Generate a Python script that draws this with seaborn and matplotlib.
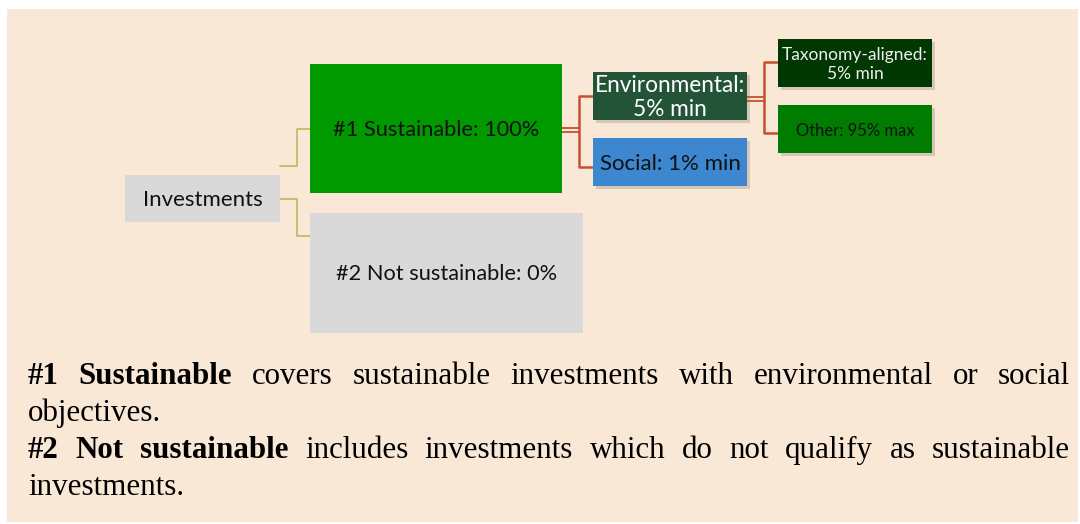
import matplotlib
matplotlib.use("Agg")
import matplotlib.pyplot as plt
import matplotlib.patheffects as pe
from matplotlib.patches import Rectangle
import seaborn as sns

# data
box_names = ["Investments", "#1 Sustainable: 100%", "#2 Not sustainable: 0%",
             "Environmental:\n5% min", "Social: 1% min",
             "Taxonomy-aligned:\n5% min", "Other: 95% max"]
box_colors = ["#d9d9d9", "#009900", "#d9d9d9", "#245438", "#3c87cf", "#013801", "#007d00"]
text_colors = ["#111111", "#111111", "#111111", "#ffffff", "#111111", "#f0f0f0", "#111111"]
note_bold = ["#1 Sustainable", "#2 Not sustainable"]
note_rest = ["covers sustainable investments with environmental or social", "includes investments which do not qualify as sustainable"]
note_tail = ["objectives.", "investments."]

# layout (pixels): x0, y0, x1, y1, fontsize, shadow
layout = [
    (125, 175, 280, 222, 16, False),
    (310, 64, 562, 193, 15.7, False),
    (310, 213, 583, 333, 15.7, False),
    (593, 72, 747, 120, 16.3, True),
    (593, 138, 747, 186, 16, True),
    (778, 39, 932, 87, 12.5, True),
    (778, 105, 932, 153, 12, True),
]

sns.set_theme(style="white")
plt.rcParams['font.family'] = ['Lato', 'DejaVu Sans']

fig = plt.figure(figsize=(10.8, 5.24), dpi=100)
ax = fig.add_axes([0, 0, 1, 1])
ax.set_xlim(0, 1080)
ax.set_ylim(524, 0)
ax.axis("off")
fig.patch.set_facecolor("white")

ax.add_patch(Rectangle((7, 9), 1071, 513, facecolor="#fae8d7", edgecolor="none", zorder=0))

# connectors
tan = "#c9b96a"
red = "#c5502e"
ax.plot([280, 297, 297, 310], [166, 166, 129, 129], color=tan, lw=1.3, zorder=1)
ax.plot([280, 297, 297, 310], [199, 199, 236, 236], color=tan, lw=1.3, zorder=1)

for yy in (127.5, 131.5):
    ax.plot([562, 579], [yy, yy], color=red, lw=1.3, zorder=1)
ax.plot([593, 579, 579, 593], [96, 96, 167, 167], color=red, lw=1.8, zorder=1)
for yy in (96.5, 100.5):
    ax.plot([747, 764], [yy, yy], color=red, lw=1.3, zorder=1)
ax.plot([778, 764, 764, 778], [62, 62, 133, 133], color=red, lw=1.8, zorder=1)

for name, fc, tc, (x0, y0, x1, y1, fs, sh) in zip(box_names, box_colors, text_colors, layout):
    r = Rectangle((x0, y0), x1 - x0, y1 - y0, facecolor=fc, edgecolor="none", zorder=2)
    if sh:
        r.set_path_effects([pe.SimplePatchShadow(offset=(2, -2.5), shadow_rgbFace="#8a7a6a", alpha=0.3), pe.Normal()])
    ax.add_patch(r)
    ax.text((x0 + x1) / 2, (y0 + y1) / 2 + 1.5, name, ha="center", va="center", fontsize=fs,
            color=tc, linespacing=1.2, zorder=3)

# justified notes
fig.canvas.draw()
renderer = fig.canvas.get_renderer()
serif = ['Liberation Serif', 'DejaVu Serif']
fs_note = 22.3
left, right = 28, 1070
line_y = [384, 421, 458, 495]


def width_px(t):
    return t.get_window_extent(renderer=renderer).width


for k in range(2):
    y = line_y[2 * k]
    words = [(w, "bold") for w in note_bold[k].split()] + [(w, "normal") for w in note_rest[k].split()]
    items = []
    for w, wt in words:
        t = ax.text(0, y, w, fontsize=fs_note, fontweight=wt, family=serif,
                    va="baseline", ha="left", color="black")
        items.append(t)
    widths = [width_px(t) for t in items]
    gap = (right - left - sum(widths)) / (len(items) - 1)
    x = left
    for t, w in zip(items, widths):
        t.set_x(x)
        x += w + gap
    ax.text(left, line_y[2 * k + 1], note_tail[k], fontsize=fs_note, family=serif,
            va="baseline", ha="left", color="black")

fig.savefig("out.png", dpi=100, facecolor="white")
